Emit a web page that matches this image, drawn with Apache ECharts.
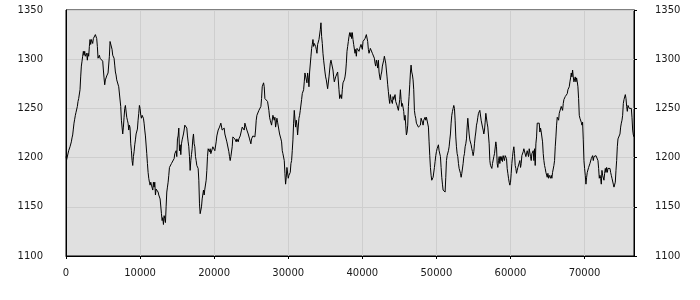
<!DOCTYPE html>
<html>
<head>
<meta charset="utf-8">
<script src="https://cdn.jsdelivr.net/npm/echarts@6/dist/echarts.min.js"></script>
<style>
html,body{margin:0;padding:0;background:#fff;}
#chart{width:700px;height:300px;}
</style>
</head>
<body>
<div id="chart"></div>
<script>
// x spacing between consecutive samples (data units)
const xStep = 90.1;
const xTicks = [0, 10000, 20000, 30000, 40000, 50000, 60000, 70000];
const yTicks = [1100, 1150, 1200, 1250, 1300, 1350];

const seg1 = [1201,1198,1197,1199,1207,1209,1211,1213,1216,1220,1223,1229,1235,1239,1243,1246,1248,1252,1257,1260,
1262,1269,1282,1293,1298,1303,1308,1304,1308,1303,1301,1306,1299,1306,1303,1313,1320,1315,1320,1318,
1316,1321,1320,1323,1325,1327,1321,1313,1301,1302,1304,1301,1300,1299,1299,1298,1289,1281,1274,1279,
1281,1283,1284,1286,1287,1303,1318,1320,1318,1310,1304,1303,1301,1294,1287,1284,1279,1278,1277,1272,
1271,1270,1252,1238,1236,1224,1231,1241,1250,1253,1251,1241,1238,1235,1228,1233,1230,1214,1207,1197,
1192,1201,1206,1213,1218,1224,1222,1229,1238,1245,1253,1250,1243,1240,1243,1245,1240,1235,1228,1222,
1221,1204,1194,1185,1179,1175,1172,1175,1172,1173,1167,1175,1170,1175,1162,1168,1167,1170,1165,1162];
const seg2 = [1160,1158,1156,1143,1136,1139,1132,1141,1138,1134,1150,1165,1170,1175,1182,1190,1192,1192,1194,1194,
1196,1196,1199,1204,1203,1207,1201,1219,1222,1230,1207,1213,1203,1214,1218,1221,1224,1228,1233,1235,
1231,1230,1222,1216,1211,1201,1187,1197,1203,1209,1219,1224,1214,1211,1201,1197,1192,1190,1189,1177,
1153,1143,1145,1150,1158,1160,1167,1162,1168,1168,1177,1187,1201,1209,1211,1206,1209,1204,1206,1206,
1211,1209,1211,1207,1206,1216,1222,1224,1228,1228,1231,1230,1235,1236,1228,1230,1226,1230,1224,1222,
1224,1216,1214,1218,1206,1201,1197,1201,1203,1211,1221,1219,1221,1219,1218,1216,1219,1218,1216,1219,
1221,1222,1224,1228,1231,1233,1230,1228,1235,1236,1233,1228,1226,1224,1222,1219,1218,1214,1219,1221,1222];
const seg3 = [1223,1224,1221,1228,1238,1243,1241,1245,1248,1250,1250,1252,1260,1272,1274,1276,1272,1260,1260,1259,
1259,1257,1255,1248,1241,1238,1240,1233,1235,1243,1245,1238,1241,1231,1230,1240,1236,1238,1228,1224,
1223,1219,1216,1207,1204,1204,1197,1184,1173,1180,1190,1191,1179,1182,1184,1185,1194,1197,1207,1218,
1235,1248,1246,1231,1238,1233,1223,1221,1240,1243,1248,1250,1259,1265,1264,1269,1277,1286,1287,1286,
1276,1286,1281,1272,1287,1287,1303,1311,1315,1320,1313,1316,1318,1313,1310,1306,1315,1316,1320,1321,
1330,1337,1323,1316,1306,1299,1293,1287,1282,1279,1277,1270,1269,1282,1289,1296,1299,1299,1298,1289,
1282,1277,1279,1282,1281,1284,1287,1286,1269,1260,1259,1264,1260,1269,1276,1277,1279,1282,1287,1296,1308];
const seg4 = [1313,1318,1323,1327,1323,1327,1321,1327,1320,1315,1316,1306,1310,1303,1311,1310,1313,1308,1311,1310,
1315,1313,1310,1318,1316,1320,1321,1323,1325,1327,1318,1310,1306,1308,1311,1310,1313,1306,1304,1306,
1301,1296,1293,1299,1296,1291,1299,1287,1282,1279,1284,1287,1293,1294,1299,1303,1304,1296,1289,1282,
1274,1267,1260,1255,1264,1259,1260,1255,1262,1259,1260,1264,1257,1259,1253,1252,1248,1250,1259,1269,
1259,1252,1255,1253,1247,1238,1243,1233,1223,1226,1233,1252,1262,1274,1286,1294,1287,1284,1279,1269,
1248,1243,1240,1235,1233,1233,1231,1230,1231,1233,1240,1241,1236,1233,1238,1240,1241,1238,1241,1243,
1241,1231,1216,1202,1190,1182,1177,1179,1180,1182,1190,1196,1202,1206,1209,1211,1213,1207];
const seg5 = [1209,1201,1190,1180,1173,1167,1168,1167,1165,1180,1197,1202,1204,1207,1211,1218,1224,1235,1243,1247,
1250,1253,1250,1238,1221,1211,1204,1201,1194,1189,1190,1184,1180,1184,1185,1194,1201,1204,1211,1214,
1219,1231,1240,1238,1224,1218,1216,1213,1209,1206,1202,1206,1214,1221,1226,1233,1236,1241,1245,1247,
1248,1250,1238,1236,1231,1228,1224,1228,1236,1245,1247,1235,1231,1230,1214,1197,1192,1190,1189,1194,
1196,1201,1204,1206,1216,1211,1194,1190,1197,1201,1194,1201,1197,1201,1196,1202,1204,1197,1202,1204,
1199,1189,1184,1179,1175,1172,1175,1184,1194,1201,1207,1211,1204,1192,1189,1184,1187,1190,1192,1190,
1197,1190,1194,1202,1204,1206,1209,1211,1207,1201,1199,1207,1206,1201,1209,1209,1201,1197,1204,1204,
1207,1197,1209,1192];
const seg6 = [1214,1221,1235,1236,1236,1235,1226,1230,1226,1224,1216,1204,1197,1192,1189,1185,1184,1180,1184,1179,
1182,1180,1179,1182,1179,1185,1187,1192,1197,1211,1221,1233,1241,1243,1238,1245,1243,1247,1252,1252,
1248,1255,1259,1260,1262,1264,1262,1265,1269,1269,1272,1277,1281,1286,1282,1289,1282,1277,1276,1282,
1277,1281,1277,1272,1260,1243,1240,1238,1236,1233,1236,1218,1197,1189,1182,1173,1180,1185,1187,1190,
1192,1194,1196,1199,1201,1202,1197,1201,1199,1201,1202,1202,1201,1197,1189,1179,1182,1179,1173,1187,
1182,1184,1177,1184,1189,1185,1190,1185,1189,1190,1187,1189,1185,1182,1179,1177,1173,1170,1168,1175,
1187,1197,1211,1219,1218,1219,1224,1231,1235,1238,1243,1255,1259,1260,1264,1260,1252,1247,1253,1252,
1250,1252,1248,1250,1241,1228,1223,1221];

const values = [].concat(seg1, seg2, seg3, seg4, seg5, seg6);

const chart = echarts.init(document.getElementById('chart'), null, {renderer: 'canvas'});
const font = {fontFamily: 'DejaVu Sans', fontSize: 10, color: '#1a1a1a'};
const plain = v => String(v);

const option = {
  animation: false,
  backgroundColor: '#ffffff',
  grid: {
    left: 66, right: 66, top: 10, bottom: 44,
    show: true, backgroundColor: '#e0e0e0', borderColor: '#000', borderWidth: 1
  },
  xAxis: {
    type: 'value',
    min: 0,
    max: 'dataMax',
    interval: 10000,
    axisLine: {show: true, lineStyle: {color: '#000', width: 1}},
    axisTick: {show: true, length: 3, lineStyle: {color: '#000'}},
    axisLabel: Object.assign({margin: 12, showMaxLabel: false,
      formatter: v => (xTicks.indexOf(v) >= 0 ? String(v) : '')}, font),
    splitLine: {show: true, lineStyle: {color: '#cecece', width: 1}}
  },
  yAxis: [
    {
      type: 'value', position: 'left', min: yTicks[0], max: yTicks[yTicks.length - 1], interval: 50,
      axisLine: {show: true, lineStyle: {color: '#000'}},
      axisTick: {show: false},
      axisLabel: Object.assign({margin: 23, formatter: plain}, font),
      splitLine: {show: true, lineStyle: {color: '#cecece', width: 1}}
    },
    {
      type: 'value', position: 'right', min: yTicks[0], max: yTicks[yTicks.length - 1], interval: 50,
      axisLine: {show: true, lineStyle: {color: '#000'}},
      axisTick: {show: true, length: 3, lineStyle: {color: '#000'}},
      axisLabel: Object.assign({margin: 21, formatter: plain}, font),
      splitLine: {show: false}
    }
  ],
  series: [{
    type: 'line',
    data: values.map((v, i) => [i * xStep, v]),
    showSymbol: false,
    symbol: 'none',
    smooth: false,
    lineStyle: {color: '#000', width: 1},
    yAxisIndex: 0
  }]
};
chart.setOption(option);
</script>
</body>
</html>
